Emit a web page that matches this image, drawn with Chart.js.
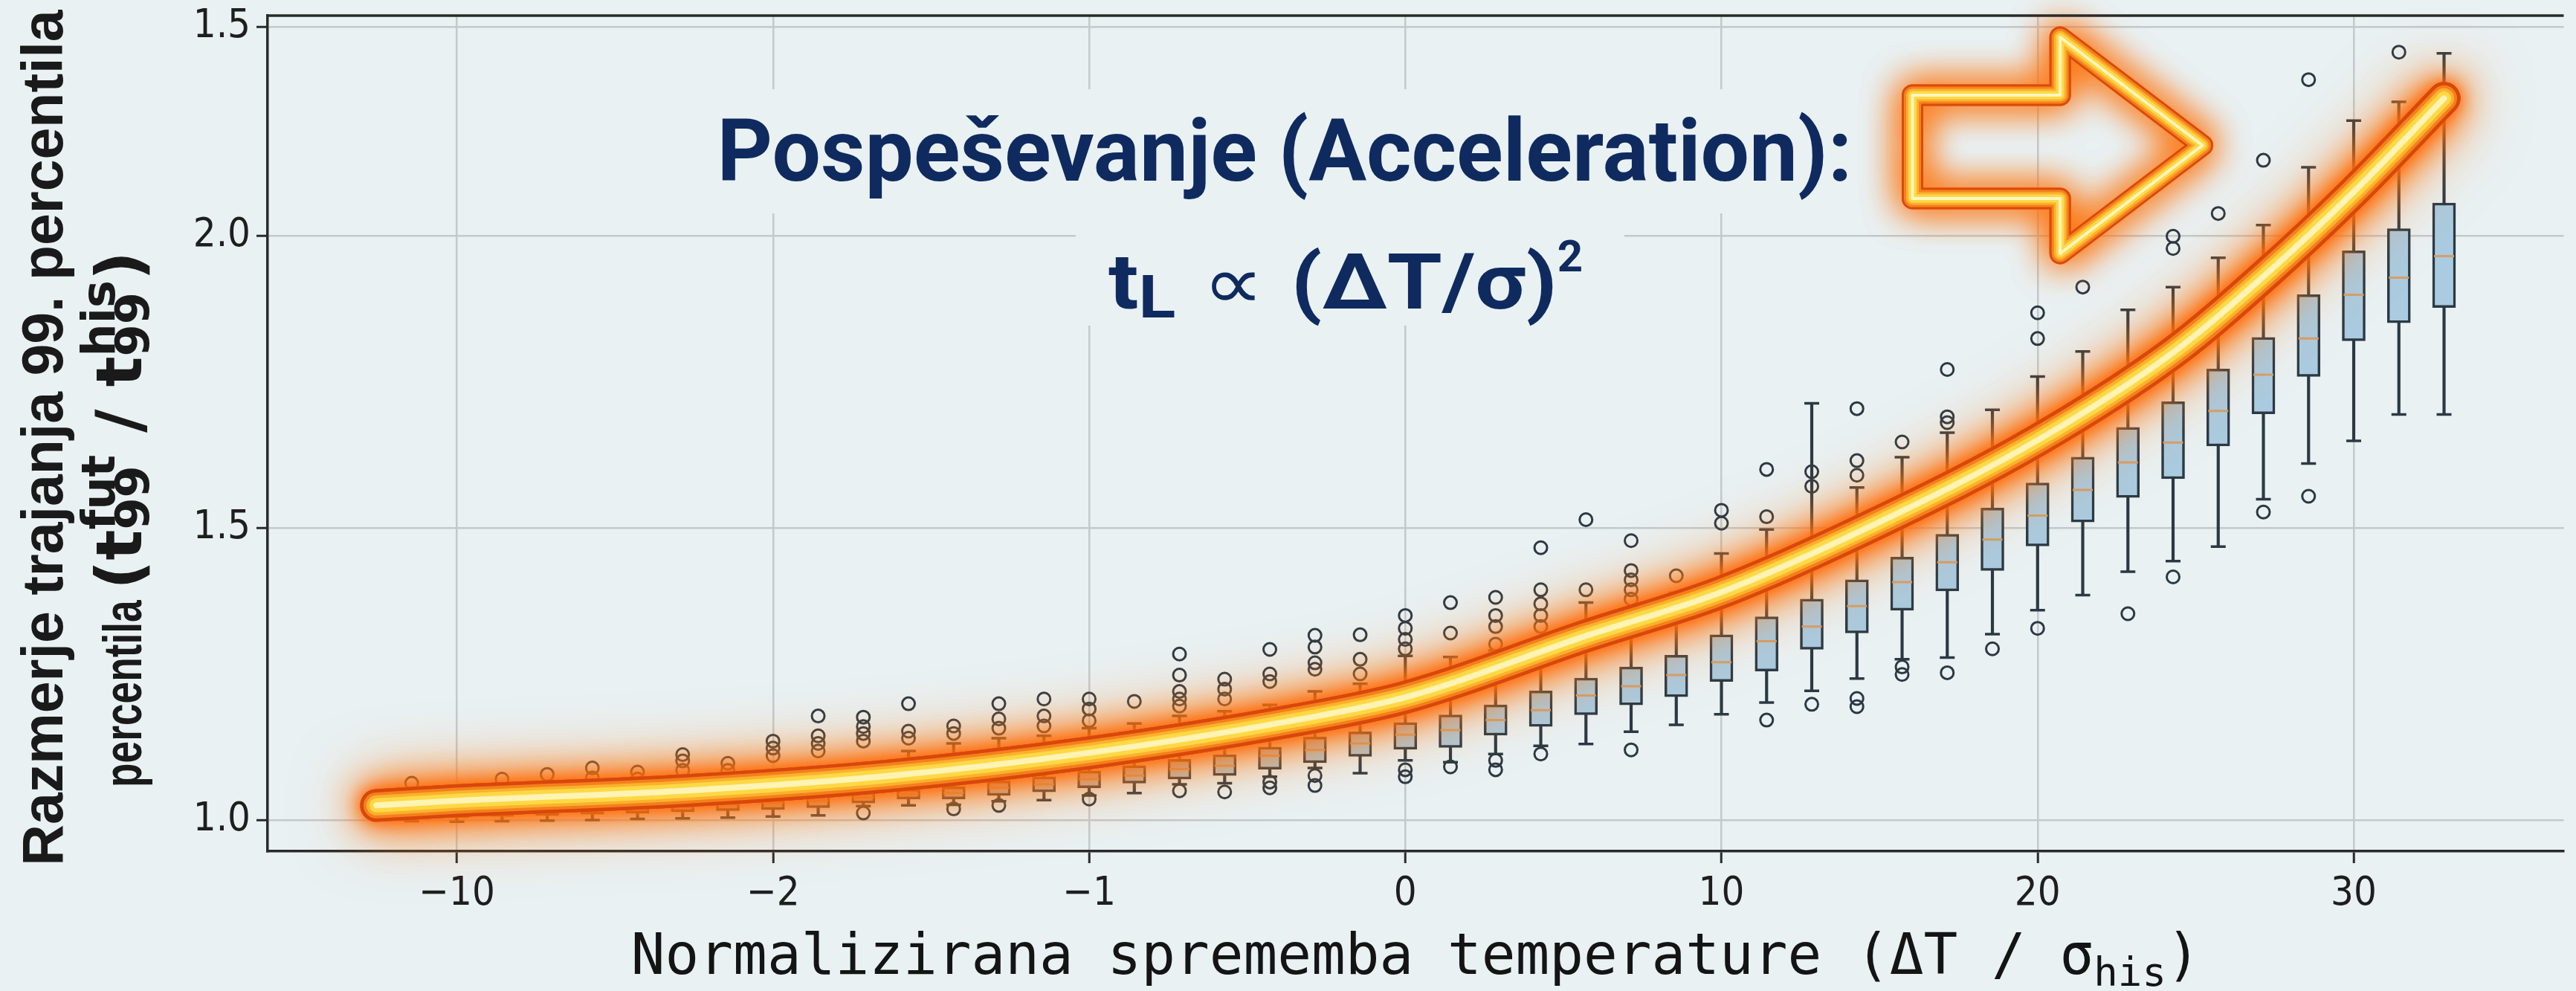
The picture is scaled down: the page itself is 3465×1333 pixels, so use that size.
<!DOCTYPE html>
<html>
<head>
<meta charset="utf-8">
<script src="https://cdn.jsdelivr.net/npm/chart.js@4.4.1/dist/chart.umd.min.js"></script>
<style>
  html, body { margin: 0; padding: 0; background: #e9f1f3; }
  canvas { display: block; }
</style>
</head>
<body>
<canvas id="chart" width="3465" height="1333"></canvas>
<script>
// x axis: box slots, 7 slots between labelled ticks
const xTickSlots = [1, 8, 15, 22, 29, 36, 43];
const xTickLabels = ["−10", "−2", "−1", "0", "10", "20", "30"];
const yTickValues = [1.0, 1.5, 2.0, 2.3575];
const yTickLabels = ["1.0", "1.5", "2.0", "1.5"];

const boxSlots = [0, 1, 2, 3, 4, 5, 6, 7, 8, 9, 10, 11, 12, 13, 14, 15, 16, 17, 18, 19, 20, 21, 22,
  23, 24, 25, 26, 27, 28, 29, 30, 31, 32, 33, 34, 35, 36, 37, 38, 39, 40, 41, 42, 43, 44, 45];

const boxQ1 = [1.005, 1.004, 1.006, 1.008, 1.010, 1.012, 1.014, 1.016, 1.018, 1.021,
  1.029, 1.036, 1.036, 1.042, 1.048, 1.055, 1.063, 1.070, 1.076, 1.087,
  1.098, 1.109, 1.121, 1.124, 1.145, 1.160, 1.180, 1.197, 1.211, 1.237,
  1.255, 1.292, 1.320, 1.359, 1.392, 1.427, 1.469, 1.510, 1.552, 1.584,
  1.640, 1.695, 1.759, 1.820, 1.851, 1.877];

const boxMedian = [1.012, 1.012, 1.015, 1.018, 1.020, 1.022, 1.024, 1.027, 1.030, 1.033,
  1.038, 1.044, 1.046, 1.055, 1.061, 1.070, 1.076, 1.087, 1.093, 1.110,
  1.120, 1.131, 1.146, 1.154, 1.171, 1.188, 1.213, 1.229, 1.248, 1.270,
  1.306, 1.331, 1.366, 1.407, 1.441, 1.480, 1.521, 1.565, 1.612, 1.646,
  1.700, 1.762, 1.824, 1.899, 1.928, 1.965];

const boxQ3 = [1.020, 1.022, 1.025, 1.028, 1.030, 1.033, 1.036, 1.039, 1.043, 1.045,
  1.048, 1.053, 1.057, 1.067, 1.074, 1.084, 1.093, 1.104, 1.112, 1.125,
  1.142, 1.151, 1.167, 1.180, 1.197, 1.221, 1.243, 1.262, 1.282, 1.317,
  1.348, 1.378, 1.411, 1.450, 1.489, 1.534, 1.577, 1.621, 1.672, 1.716,
  1.772, 1.826, 1.899, 1.974, 2.012, 2.056];

const whiskerLow = [0.998, 0.997, 0.998, 0.999, 1.000, 1.002, 1.003, 1.004, 1.006, 1.008,
  1.024, 1.025, 1.026, 1.032, 1.034, 1.042, 1.046, 1.061, 1.063, 1.074,
  1.089, 1.080, 1.102, 1.099, 1.113, 1.127, 1.130, 1.151, 1.163, 1.181,
  1.201, 1.221, 1.242, 1.275, 1.278, 1.318, 1.359, 1.385, 1.425, 1.443,
  1.468, 1.549, 1.610, 1.649, 1.694, 1.694];

const whiskerHigh = [1.035, 1.040, 1.045, 1.050, 1.055, 1.058, 1.062, 1.066, 1.070, 1.075,
  1.090, 1.118, 1.131, 1.140, 1.144, 1.157, 1.165, 1.178, 1.186, 1.197,
  1.220, 1.233, 1.281, 1.279, 1.290, 1.309, 1.372, 1.359, 1.389, 1.456,
  1.497, 1.713, 1.569, 1.621, 1.663, 1.702, 1.759, 1.802, 1.873, 1.912,
  1.962, 2.018, 2.117, 2.197, 2.229, 2.312];

const boxOutliers = [
  [1.063], [], [1.070], [1.078], [1.089, 1.072], [1.082, 1.070], [1.112, 1.101, 1.085],
  [1.097, 1.085], [1.135, 1.123, 1.110], [1.178, 1.144, 1.131, 1.118],
  [1.176, 1.160, 1.148, 1.135, 1.012], [1.199, 1.152, 1.140], [1.161, 1.148, 1.019],
  [1.199, 1.173, 1.157, 1.025], [1.207, 1.178, 1.161], [1.207, 1.190, 1.170, 1.036],
  [1.203], [1.284, 1.248, 1.220, 1.207, 1.195, 1.050], [1.241, 1.224, 1.207, 1.048],
  [1.292, 1.250, 1.237, 1.065, 1.055], [1.316, 1.296, 1.269, 1.258, 1.076, 1.059],
  [1.317, 1.275, 1.250], [1.350, 1.328, 1.309, 1.293, 1.086, 1.074], [1.372, 1.320, 1.091],
  [1.381, 1.350, 1.331, 1.301, 1.102, 1.086], [1.466, 1.394, 1.370, 1.350, 1.331, 1.113],
  [1.514, 1.394], [1.478, 1.427, 1.411, 1.394, 1.378, 1.120], [1.418], [1.530, 1.508],
  [1.600, 1.519, 1.171], [1.596, 1.571, 1.198], [1.704, 1.615, 1.590, 1.208, 1.194],
  [1.647, 1.262, 1.249], [1.771, 1.690, 1.680, 1.252], [1.293], [1.868, 1.824, 1.328],
  [1.912], [1.353], [1.999, 1.978, 1.416], [2.038], [2.129, 1.527], [2.267, 1.554],
  [], [2.314], []
];

// fitted acceleration curve
const curveSlots = [-0.78, 1, 6, 10.5, 15, 19.5, 22, 26, 29, 32.5, 36, 39, 41, 43, 45];
const curveValues = [1.025, 1.033, 1.05, 1.075, 1.115, 1.17, 1.21, 1.315, 1.39, 1.51, 1.65, 1.8, 1.93, 2.075, 2.235];

// outline arrow, in slot / value units
const arrowSlots = [33.23, 36.5, 36.5, 39.65, 36.5, 36.5, 33.23];
const arrowValues = [2.2405, 2.2405, 2.3397, 2.1546, 1.9695, 2.0636, 2.0636];

const BG = "#e9f1f3";
const INK = "#2b3944";
const NAVY = "#0f2a5e";

const pts = arr => boxSlots.map((s, i) => ({ x: s, y: arr[i] }));
const outlierPoints = [];
boxOutliers.forEach((list, i) => list.forEach(v => outlierPoints.push({ x: boxSlots[i], y: v })));
const curvePoints = curveSlots.map((s, i) => ({ x: s, y: curveValues[i] }));

function runWidth(c, r) {
  c.font = r.font;
  if (r.sup !== undefined) return Math.max(c.measureText(r.sup).width, c.measureText(r.sub).width);
  return c.measureText(r.text).width * (r.sx || 1);
}

function measureRuns(c, runs) {
  return runs.reduce((w, r) => w + runWidth(c, r), 0);
}

function drawRuns(c, runs, x, y) {
  runs.forEach(r => {
    const w = runWidth(c, r);
    if (r.sup !== undefined) {
      c.fillText(r.sup, x, y + r.supDy);
      c.fillText(r.sub, x, y + r.subDy);
    } else {
      c.save();
      c.translate(x, y + (r.dy || 0));
      c.scale(r.sx || 1, 1);
      c.fillText(r.text, 0, 0);
      c.restore();
    }
    x += w;
  });
  return x;
}

const bgPlugin = {
  id: "bg",
  beforeDraw(chart) {
    const c = chart.ctx;
    c.save();
    c.fillStyle = BG;
    c.fillRect(0, 0, chart.width, chart.height);
    c.restore();
  }
};

// formula text with a background patch over the grid
const notePlugin = {
  id: "note",
  beforeDatasetsDraw(chart) {
    const c = chart.ctx;
    c.save();
    c.textBaseline = "alphabetic";
    const line1 = [{ text: "Pospeševanje (Acceleration):", font: "bold 116px Roboto" }];
    const w1 = measureRuns(c, line1);
    c.fillStyle = BG;
    c.fillRect(1728 - w1 / 2 - 38, 120, w1 + 76, 167);
    c.fillStyle = NAVY;
    drawRuns(c, line1, 1728 - w1 / 2, 243);

    const line2 = [
      { text: "t", font: "bold 104px Roboto", sx: 1.15 },
      { text: "L", font: "bold 80px Roboto", dy: 12, sx: 1.15 },
      { text: " ∝ ", font: "100px 'DejaVu Sans'", sx: 1.15 },
      { text: "(ΔT/σ)", font: "bold 104px Roboto", sx: 1.15 },
      { text: "2", font: "bold 60px Roboto", dy: -50 }
    ];
    c.fillStyle = BG;
    c.fillRect(1447, 287, 738, 151);
    c.fillStyle = NAVY;
    drawRuns(c, line2, 1491, 415);
    c.restore();
  }
};

const glowPlugin = {
  id: "glow",
  beforeDatasetDraw(chart, args) {
    const ds = chart.data.datasets[args.index];
    if (!ds.glow) return;
    const c = chart.ctx;
    c.save();
    c.shadowColor = ds.glow.color;
    c.shadowBlur = ds.glow.blur;
  },
  afterDatasetDraw(chart, args) {
    const ds = chart.data.datasets[args.index];
    if (ds.glow) chart.ctx.restore();
  }
};

const arrowPlugin = {
  id: "arrow",
  afterDatasetsDraw(chart) {
    const c = chart.ctx;
    const sx = chart.scales.x, sy = chart.scales.y;
    const path = () => {
      c.beginPath();
      arrowSlots.forEach((s, i) => {
        const px = sx.getPixelForValue(s), py = sy.getPixelForValue(arrowValues[i]);
        if (i) c.lineTo(px, py); else c.moveTo(px, py);
      });
      c.closePath();
    };
    c.save();
    c.lineJoin = "round";
    c.shadowColor = "rgba(255,110,0,1)";
    c.shadowBlur = 50;
    c.strokeStyle = "#dc4a0c";
    c.lineWidth = 29;
    path(); c.stroke();
    path(); c.stroke();
    c.shadowBlur = 0;
    [[23, "#f5831d"], [17, "#fbb22e"], [11, "#ffd845"], [4, "#fff6c0"]].forEach(([w, col]) => {
      c.lineWidth = w; c.strokeStyle = col; path(); c.stroke();
    });
    c.restore();
  }
};

const titlePlugin = {
  id: "titles",
  afterDraw(chart) {
    const c = chart.ctx;
    const a = chart.chartArea;
    c.save();
    // top frame line
    c.strokeStyle = "#2a2a2a";
    c.lineWidth = 3.5;
    c.beginPath();
    c.moveTo(a.left, a.top);
    c.lineTo(a.right, a.top);
    c.stroke();

    c.fillStyle = "#141414";
    c.textBaseline = "alphabetic";
    const xt = [
      { text: "Normalizirana sprememba temperature (ΔT / σ", font: "76px 'DejaVu Sans Mono'" },
      { text: "his", font: "54px 'DejaVu Sans Mono'", dy: 16 },
      { text: ")", font: "76px 'DejaVu Sans Mono'" }
    ];
    const wx = measureRuns(c, xt);
    drawRuns(c, xt, (a.left + a.right) / 2 - wx / 2, 1310);

    // y title, two rotated lines
    c.fillStyle = "#1a1a1a";
    c.save();
    c.translate(84, 0);
    c.rotate(-Math.PI / 2);
    const y1 = [{ text: "Razmerje trajanja 99. percentila", font: "bold 77px 'Liberation Sans'" }];
    const wy1 = measureRuns(c, y1);
    drawRuns(c, y1, -589 - wy1 / 2, 0);
    c.restore();

    c.save();
    c.translate(190, 0);
    c.rotate(-Math.PI / 2);
    drawRuns(c, [{ text: "percentila", font: "bold 72px 'Liberation Sans'", sx: 0.74 }], -1059, 0);
    const y2 = [
      { text: "(t", font: "bold 86px 'DejaVu Sans'" },
      { sup: "fut", sub: "99", font: "bold 62px 'DejaVu Sans'", supDy: -36, subDy: 10 },
      { text: " / t", font: "bold 86px 'DejaVu Sans'" },
      { sup: "his", sub: "99", font: "bold 62px 'DejaVu Sans'", supDy: -36, subDy: 10 },
      { text: ")", font: "bold 86px 'DejaVu Sans'" }
    ];
    drawRuns(c, y2, -793, 0);
    c.restore();
    c.restore();
  }
};

const tickFont = { family: "'DejaVu Sans Condensed', 'DejaVu Sans'", size: 54 };
const curveLine = { type: "line", clip: false, pointRadius: 0, data: curvePoints,
  cubicInterpolationMode: "monotone", borderCapStyle: "round" };

new Chart(document.getElementById("chart"), {
  type: "bar",
  data: {
    datasets: [
      {
        type: "bar", label: "whiskers", order: 10, grouped: false,
        data: boxSlots.map((s, i) => ({ x: s, y: [whiskerLow[i], whiskerHigh[i]] })),
        backgroundColor: INK, borderWidth: 0, barThickness: 3.5
      },
      {
        type: "bar", label: "boxes", order: 9, grouped: false,
        data: boxSlots.map((s, i) => ({ x: s, y: [boxQ1[i], boxQ3[i]] })),
        backgroundColor: "#aacbe0", borderColor: INK, borderWidth: 3.5,
        borderSkipped: false, barThickness: 31
      },
      {
        type: "scatter", label: "caps low", order: 8, data: pts(whiskerLow),
        pointStyle: "line", pointRadius: 10, borderColor: INK, borderWidth: 3.5
      },
      {
        type: "scatter", label: "caps high", order: 8, data: pts(whiskerHigh),
        pointStyle: "line", pointRadius: 10, borderColor: INK, borderWidth: 3.5
      },
      {
        type: "scatter", label: "median", order: 7, data: pts(boxMedian),
        pointStyle: "line", pointRadius: 13.5, borderColor: "#d49f6a", borderWidth: 3
      },
      {
        type: "scatter", label: "outliers", order: 6, data: outlierPoints,
        pointStyle: "circle", pointRadius: 8.5, borderColor: INK, borderWidth: 3,
        backgroundColor: "rgba(0,0,0,0)"
      },
      Object.assign({}, curveLine, {
        label: "halo widest", order: 5.8, borderColor: "#d8470c", borderWidth: 44,
        glow: { color: "rgba(255,135,35,0.85)", blur: 95 }
      }),
      Object.assign({}, curveLine, {
        label: "halo wide", order: 5.5, borderColor: "#d8470c", borderWidth: 44,
        glow: { color: "rgba(255,120,15,1)", blur: 60 }
      }),
      Object.assign({}, curveLine, {
        label: "halo", order: 5, borderColor: "#d8470c", borderWidth: 44,
        glow: { color: "rgba(255,110,10,1)", blur: 40 }
      }),
      Object.assign({}, curveLine, {
        label: "edge", order: 4, borderColor: "#d8470c", borderWidth: 44,
        glow: { color: "rgba(255,100,0,0.9)", blur: 18 }
      }),
      Object.assign({}, curveLine, { label: "orange", order: 3, borderColor: "#f47f1b", borderWidth: 35 }),
      Object.assign({}, curveLine, { label: "amber", order: 2.5, borderColor: "#fbb12e", borderWidth: 27 }),
      Object.assign({}, curveLine, { label: "yellow", order: 2, borderColor: "#ffd845", borderWidth: 19 }),
      Object.assign({}, curveLine, { label: "core", order: 1, borderColor: "#fff4b4", borderWidth: 8 })
    ]
  },
  options: {
    responsive: false,
    devicePixelRatio: 1,
    animation: false,
    events: [],
    layout: { padding: { top: 21, left: 0, right: 0, bottom: 0 } },
    plugins: { legend: { display: false }, tooltip: { enabled: false } },
    scales: {
      x: {
        type: "linear", min: -3.19, max: 47.65, offset: false,
        afterBuildTicks: s => { s.ticks = xTickSlots.map(v => ({ value: v })); },
        afterFit: s => { s.height = 188; s.paddingLeft = 0; s.paddingRight = 0; },
        ticks: {
          autoSkip: false, maxRotation: 0, padding: 10, color: "#1e1e1e", font: tickFont,
          callback: (v, i) => xTickLabels[i]
        },
        grid: { offset: false, color: "#c3c9cc", lineWidth: 2.5, tickLength: 16, tickColor: "#2a2a2a", tickWidth: 3 },
        border: { color: "#2a2a2a", width: 3.5 }
      },
      y: {
        type: "linear", min: 0.94656, max: 2.37659,
        afterBuildTicks: s => { s.ticks = yTickValues.map(v => ({ value: v })); },
        afterFit: s => { s.width = 360; s.paddingTop = 0; s.paddingBottom = 0; },
        ticks: {
          autoSkip: false, padding: 8, color: "#1e1e1e", font: tickFont,
          callback: (v, i) => yTickLabels[i]
        },
        grid: { color: "#c3c9cc", lineWidth: 2.5, tickLength: 15, tickColor: "#2a2a2a", tickWidth: 3 },
        border: { color: "#2a2a2a", width: 3.5 }
      }
    }
  },
  plugins: [bgPlugin, notePlugin, glowPlugin, arrowPlugin, titlePlugin]
});
</script>
</body>
</html>
